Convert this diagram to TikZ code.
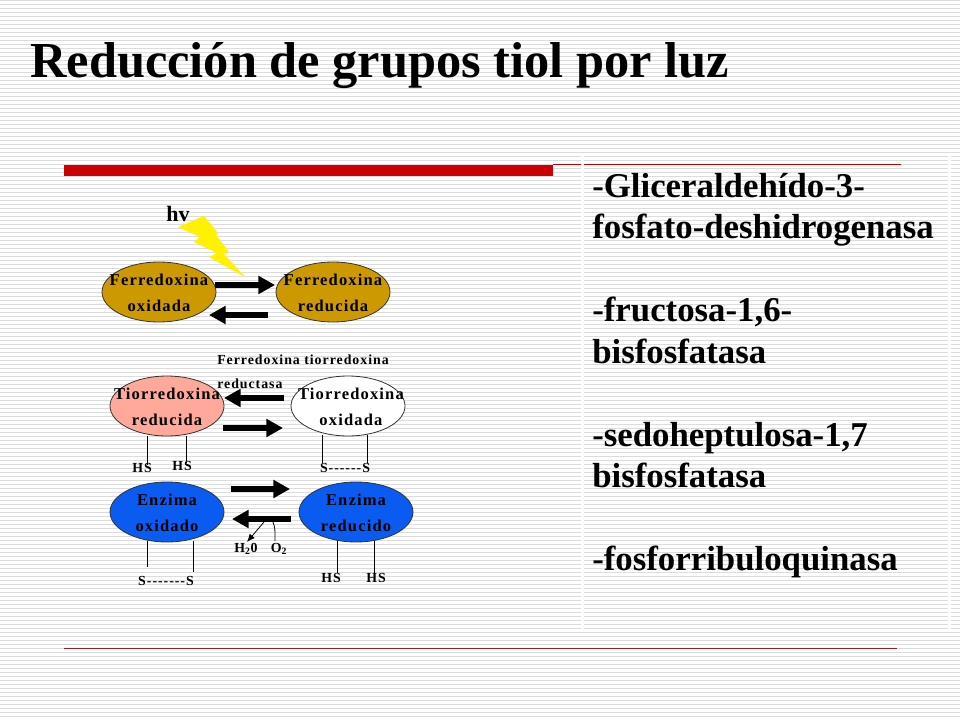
\documentclass[tikz,border=0pt]{standalone}
\usepackage{fontspec}
\setmainfont{Liberation Serif}
\newfontfamily\smallfont[LetterSpace=7]{Liberation Serif}
\usetikzlibrary{shapes.geometric,arrows.meta}
\definecolor{stripegray}{HTML}{DCDCDC}
\definecolor{barred}{HTML}{CC0000}
\definecolor{ruledred}{HTML}{A01C1C}
\definecolor{ochre}{HTML}{CC9900}
\definecolor{salmon}{HTML}{FFA99A}
\definecolor{enzblue}{HTML}{0A5CF0}
\tikzset{
  oval/.style={ellipse,draw=black!80,line width=0.6pt,minimum width=85.5pt,minimum height=45pt,inner sep=0pt},
  txt/.style={font=\smallfont\bfseries\fontsize{12.4}{20}\selectfont,align=center,inner sep=0pt,text=black,yshift=-0.6pt},
  tiny/.style={txt,yshift=0.6pt,font=\smallfont\bfseries\fontsize{10.4}{12}\selectfont},
  bigarrow/.style={line width=4.5pt,-{Triangle[length=12.5pt,width=13pt]}},
  stem/.style={line width=0.6pt}
}
\begin{document}
\begin{tikzpicture}[x=0.75pt,y=-0.75pt]
\useasboundingbox (0,0) rectangle (960,720);
\fill[white] (0,0) rectangle (960,720);

% Striped background
\foreach \y in {0,4,...,716} {
\draw[stripegray,line width=0.75pt] (0,\y+0.5) -- (960,\y+0.5);
}
\fill[white] (581,156) rectangle (584,630);
\fill[white] (948,156) rectangle (951,630);

% Title
\node[anchor=base west,inner sep=0pt,font=\bfseries\fontsize{37.8}{40}\selectfont] (title) at (30,78) {Reducción de grupos tiol por luz};

% Red rules
\fill[barred] (64,165) rectangle (553,176);
\draw[barred,line width=0.75pt] (553,165) -- (581,165);
\draw[barred,line width=0.75pt] (584,165) -- (901,165);
\draw[ruledred,line width=0.75pt] (64,648.5) -- (897,648.5);

% Enzyme list
\node[anchor=north west,inner sep=0pt,align=left,font=\bfseries\fontsize{26.1}{31.1}\selectfont] (list) at (592,173) {-Gliceraldehído-3-\\fosfato-deshidrogenasa\\[31.1pt]-fructosa-1,6-\\bisfosfatasa\\[31.1pt]-sedoheptulosa-1,7\\bisfosfatasa\\[31.1pt]-fosforribuloquinasa};

% Ovals
\node[oval,fill=ochre,label={[txt]center:Ferredoxina\\oxidada}] (fo) at (159,292) {};
\node[oval,fill=ochre,label={[txt]center:Ferredoxina\\reducida}] (fr) at (333,292) {};
\node[oval,fill=salmon,label={[txt]center:Tiorredoxina\\reducida}] (tr) at (167,406) {};
\node[oval,fill=white,label={[txt,xshift=2.2pt]center:Tiorredoxina\\oxidada}] (tx) at (348,406) {};
\node[oval,fill=enzblue,label={[txt]center:Enzima\\oxidado}] (eo) at (167,512) {};
\node[oval,fill=enzblue,label={[txt]center:Enzima\\reducido}] (er) at (356,512) {};

% Light
\fill[yellow] (204,216) -- (218,233) -- (216,235) -- (229,252) -- (224,254) -- (245,277) -- (209,257) -- (217,253) -- (194,242) -- (200,237) -- (178,227) -- cycle;
\node[txt,yshift=0.6pt,font=\bfseries\fontsize{16.5}{18}\selectfont] (hv) at (178,214) {hv};

% Block arrows
\foreach \n/\xa/\xb/\y in {a/215/275/285,b/268/209/315,c/284/224/398,d/223/283/428,e/231/290/489,f/291/232/519} {
\coordinate (\n s) at (\xa,\y);
\coordinate (\n t) at (\xb,\y);
\draw[bigarrow] (\n s) -- (\n t);
}

% Stems
\foreach \n/\x/\ya/\yb in {g/147/436/465,h/186/436/463,i/322/435/463,j/367/435/463,k/147/541/567,l/193/541/572,m/337/541/573,n/374/541/573} {
\coordinate (\n s) at (\x,\ya);
\coordinate (\n t) at (\x,\yb);
\draw[stem] (\n s) -- (\n t);
}

% Stem labels
\node[tiny] (hsa) at (142,468) {HS};
\node[tiny] (hsb) at (182,466) {HS};
\node[tiny] (ssa) at (345,468) {S------S};
\node[tiny] (ssb) at (166,581) {S-------S};
\node[tiny] (hsc) at (331,578) {HS};
\node[tiny] (hsd) at (376,578) {HS};

% Water and oxygen
\node[tiny] (water) at (246,549) {H\textsubscript{2}0};
\node[tiny] (oxy) at (279,549) {O\textsubscript{2}};
\coordinate (fork) at (264,522);
\coordinate (forkb) at (273,522);
\coordinate (wtip) at (247,542);
\coordinate (oend) at (275,541);
\draw[stem,-{Latex[length=6pt,width=5pt]}] (fork) -- (wtip);
\draw[stem] (forkb) .. controls (275,528) .. (oend);

% Enzyme name
\node[tiny,anchor=base west] (ftr) at (217,364) {Ferredoxina tiorredoxina};
\node[tiny,anchor=base west] (rdt) at (217,388) {reductasa};
\end{tikzpicture}
\end{document}
